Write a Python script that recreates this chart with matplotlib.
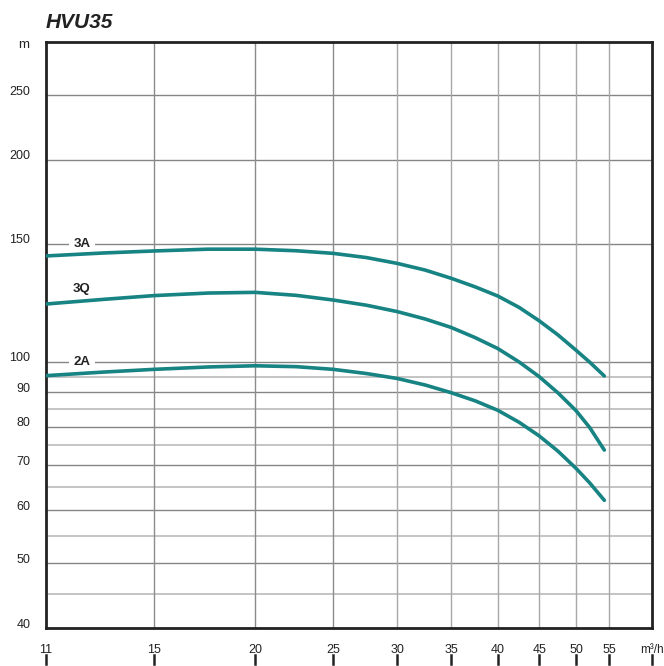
import numpy as np
import matplotlib
matplotlib.use('Agg')
import matplotlib.pyplot as plt
import matplotlib.transforms as mtransforms

plt.rcParams['font.family'] = ['Liberation Sans', 'DejaVu Sans']

# flow (m3/h) and head (m)
flow = [11, 13, 15, 17.5, 20, 22.5, 25, 27.5, 30, 32.5, 35, 37.5, 40, 42.5, 45, 47.5, 50, 52, 54.2]
head_3A = [143.8, 145.3, 146.3, 147.2, 147.2, 146.4, 145.1, 143.0, 140.2, 137.0, 133.2,
           129.3, 125.3, 120.5, 115.1, 109.6, 104.0, 99.8, 95.2]
head_3Q = [121.9, 123.9, 125.5, 126.6, 126.9, 125.6, 123.6, 121.4, 118.8, 115.8, 112.5,
           108.6, 104.6, 99.9, 95.0, 89.8, 84.5, 79.7, 73.8]
head_2A = [95.3, 96.5, 97.4, 98.2, 98.6, 98.3, 97.4, 96.0, 94.4, 92.3, 89.9,
           87.4, 84.6, 81.2, 77.5, 73.5, 69.3, 65.9, 62.1]

curve_names = ['3A', '3Q', '2A']
label_x = 12.2
label_y = [150, 128.4, 100]

x_ticks = [11, 15, 20, 25, 30, 35, 40, 45, 50, 55]
y_major = [40, 50, 60, 70, 80, 90, 100, 150, 200, 250]
y_minor = [45, 55, 65, 75, 85, 95]
x_max = 62.1
y_min, y_max = 40, 300

teal = '#178383'

fig = plt.figure(figsize=(6.64, 6.66), dpi=100)
ax = fig.add_axes([45.5/664, (666-628.3)/666, (652-45.5)/664, (628.3-42)/666])
ax.set_xscale('log')
ax.set_yscale('log')
ax.set_xlim(11, x_max)
ax.set_ylim(y_min, y_max)

# grid
for yv in y_minor:
    ax.axhline(yv, color='#c4c4c4', lw=1.4, zorder=1)
for yv in y_major:
    ax.axhline(yv, color='#858585', lw=1.0, zorder=1)
for xv in x_ticks[1:]:
    ax.axvline(xv, color='#8c8c8c' if xv <= 25 else '#a8a8a8', lw=1.0, zorder=1)

for h in [head_3A, head_3Q, head_2A]:
    ax.plot(flow, h, color=teal, lw=2.6, solid_capstyle='round',
            solid_joinstyle='round', zorder=3)

# labels sit on the grid lines, under the curves
for name, ly in zip(curve_names, label_y):
    ax.text(label_x, ly, name, fontsize=9.5, fontweight='bold', color='#222222',
            ha='center', va='center', zorder=2,
            bbox=dict(facecolor='white', edgecolor='none', pad=3))

for s in ax.spines.values():
    s.set_linewidth(2.0)
    s.set_color('#222222')

# y axis labels
ax.yaxis.set_minor_locator(matplotlib.ticker.NullLocator())
ax.set_yticks(y_major, [str(v) for v in y_major])
ax.tick_params(axis='y', length=0, pad=11, labelsize=9, labelcolor='#222222')
off = mtransforms.ScaledTranslation(0, 5/100, fig.dpi_scale_trans)
for lab in ax.get_yticklabels():
    lab.set_transform(lab.get_transform() + off)
ax.text(-16/606.5, 1 - 3/586.3, 'm', transform=ax.transAxes, ha='right', va='center',
        fontsize=9.5, color='#222222')

# x axis labels with tick marks below them
ax.xaxis.set_minor_locator(matplotlib.ticker.NullLocator())
ax.set_xticks(x_ticks + [x_max], [str(v) for v in x_ticks] + ['m³/h'])
ax.tick_params(axis='x', length=0, pad=11, labelsize=9, labelcolor='#222222')
ax.get_xticklabels()[-1].set_fontsize(8.5)
trans = mtransforms.blended_transform_factory(ax.transData, ax.transAxes)
for xv in x_ticks + [x_max]:
    ax.plot([xv, xv], [-0.0455, -0.061], color='#222222', lw=1.8,
            transform=trans, clip_on=False)

fig.text(46/664, 1 - 22/666, 'HVU35', fontsize=15, fontweight='bold',
         fontstyle='italic', color='#222222', ha='left', va='center')

fig.savefig('out.png', dpi=100)
